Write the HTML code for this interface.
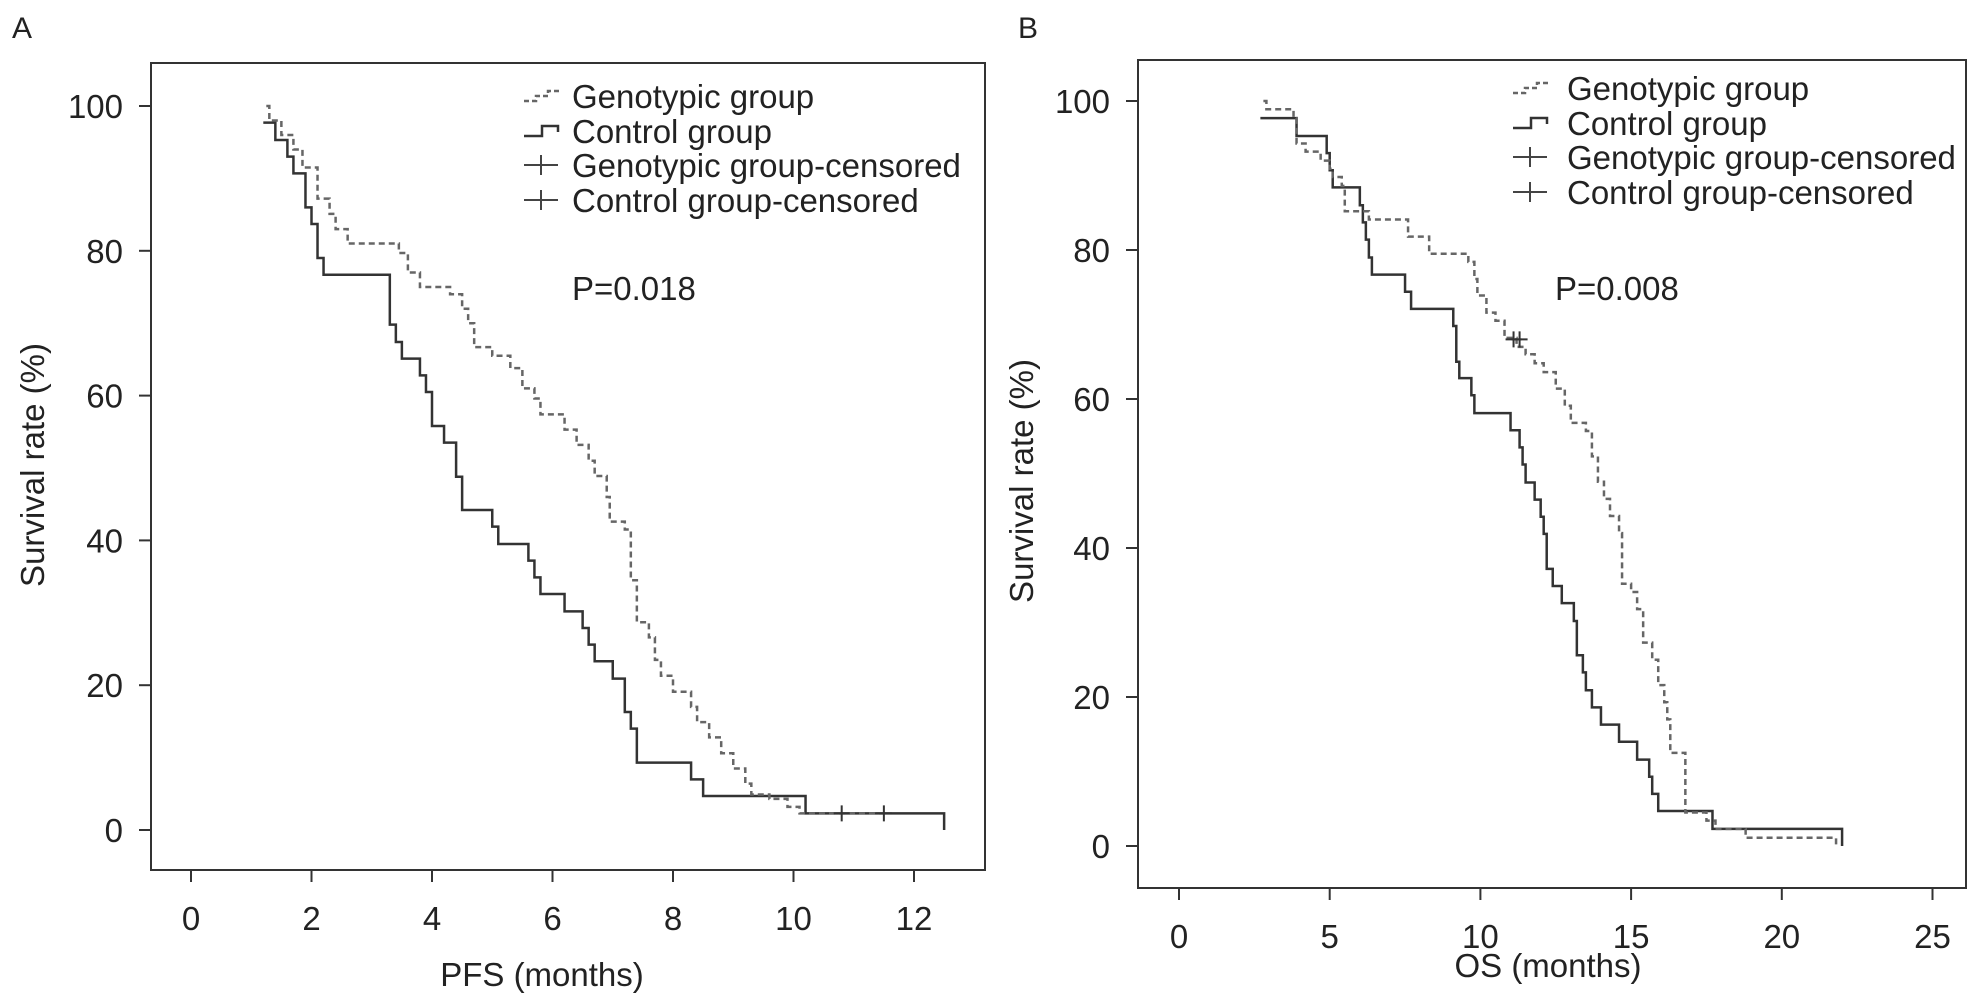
<!DOCTYPE html>
<html><head><meta charset="utf-8"><style>
body{margin:0;background:#fff}
svg{display:block;font-family:"Liberation Sans",Arial,sans-serif}
</style></head><body>
<svg id="fig" width="1985" height="1006" viewBox="0 0 1985 1006"></svg>
<script>
// Panel A data (PFS)
const pfsControlT=[1.2,1.4,1.6,1.7,1.9,2.0,2.1,2.2,3.3,3.4,3.5,3.8,3.9,4.0,4.2,4.4,4.5,5.0,5.1,5.6,5.7,5.8,6.2,6.5,6.6,6.7,7.0,7.2,7.3,7.4,8.3,8.5,10.2,12.5];
const pfsControlS=[97.7,95.3,93,90.7,86,83.7,79,76.7,69.8,67.4,65.1,62.8,60.5,55.8,53.5,48.8,44.2,41.9,39.5,37.2,34.9,32.6,30.2,27.9,25.6,23.3,20.9,16.3,14,9.3,7,4.7,2.3,0];
const pfsGenoT=[1.25,1.3,1.5,1.7,1.85,2.1,2.3,2.4,2.6,3.45,3.6,3.8,4.3,4.5,4.6,4.7,5.0,5.3,5.5,5.7,5.8,6.2,6.4,6.6,6.7,6.9,6.95,7.2,7.3,7.4,7.6,7.7,7.8,8.0,8.3,8.4,8.6,8.8,9.0,9.2,9.3,9.6,9.9,10.1,11.5];
const pfsGenoS=[100,98,96,94,91.5,87.2,85.1,83,81,79.7,77,75,74,72,70,66.7,65.5,63.8,61,59.6,57.4,55.3,53.2,51,48.9,46,42.6,41.5,34.5,28.7,26.6,23.5,21.3,19.1,17,14.9,12.8,10.6,8.5,6.4,4.9,4.3,3.2,2.3,2.3];
const pfsCensorT=[10.8,11.5];
const pfsCensorS=[2.3,2.3];
const pfsTicks=[0,2,4,6,8,10,12];
// Panel B data (OS)
const osControlT=[2.7,3.9,4.9,5.0,5.1,6.0,6.1,6.2,6.3,6.4,7.5,7.7,9.1,9.2,9.3,9.7,9.8,11,11.3,11.4,11.5,11.8,12,12.1,12.2,12.4,12.7,13.1,13.2,13.4,13.5,13.7,14.0,14.6,15.2,15.6,15.7,15.9,17.7,22];
const osControlS=[97.7,95.3,93,90.7,88.4,86,83.7,81.4,79,76.7,74.4,72.1,69.8,65,62.8,60.5,58.1,55.8,53.5,51.2,48.8,46.5,44.2,41.9,37.2,34.9,32.6,30.2,25.6,23.3,20.9,18.6,16.3,14,11.6,9.3,7,4.7,2.3,0];
const osGenoT=[2.8,2.9,3.8,3.9,4.2,4.7,5.0,5.1,5.4,5.5,6.3,7.6,8.3,9.6,9.8,9.9,10.2,10.5,10.8,11.2,11.5,11.8,12.1,12.5,12.8,13.0,13.5,13.7,13.9,14.1,14.3,14.6,14.7,15.0,15.2,15.4,15.7,15.9,16.1,16.2,16.3,16.8,17.5,17.8,18.8,21.8];
const osGenoS=[100,98.9,97.7,94.3,93.2,92,90.9,89.8,88.6,85.2,84.1,81.8,79.5,78.4,76.1,73.9,71.6,70.5,68.2,67,66,64.8,63.6,61.4,59.1,56.8,55.7,52.3,48.9,46.6,44.3,42,35.2,34.1,31.8,27.3,25,21.6,19.3,17,12.5,4.5,3.4,2.3,1.1,0];
const osCensorT=[11.1,11.3];
const osCensorS=[68,68];
const osTicks=[0,5,10,15,20,25];
const yTicks=[0,20,40,60,80,100];

const NS='http://www.w3.org/2000/svg';
const svg=document.getElementById('fig');
const FS=33;
function mk(tag,attrs,parent){const e=document.createElementNS(NS,tag);for(const k in attrs)e.setAttribute(k,attrs[k]);(parent||svg).appendChild(e);return e;}
function txt(s,attrs,parent){const e=mk('text',attrs,parent);e.textContent=s;return e;}

function panel(cfg){
  const g=mk('g',{});
  
  
  const X=v=>cfg.x0+v*cfg.xs, Y=v=>cfg.y0-v*cfg.ys;
  const box=mk('rect',{x:cfg.L,y:cfg.T,width:cfg.R-cfg.L,height:cfg.B-cfg.T,fill:'none',stroke:'#333','stroke-width':2},g);
  
  
  const pl=txt(cfg.label,{x:cfg.labelX,y:38,'font-size':30,fill:'#222'},g);
  
  
  yTicks.forEach(v=>{
    mk('line',{x1:cfg.L-12,x2:cfg.L,y1:Y(v),y2:Y(v),stroke:'#333','stroke-width':2},g);
    const t=txt(String(v),{x:cfg.L-28,y:Y(v)+12,'font-size':FS,'text-anchor':'end',fill:'#222'},g);
    
    
  });
  cfg.xticks.forEach(v=>{
    mk('line',{x1:X(v),x2:X(v),y1:cfg.B,y2:cfg.B+12,stroke:'#333','stroke-width':2},g);
    const t=txt(String(v),{x:X(v),y:cfg.B+60,'font-size':FS,'text-anchor':'middle',fill:'#222'},g);
    
    
  });
  const xt=txt(cfg.xtitle,{x:cfg.xtX,y:cfg.xtY,'font-size':FS,'text-anchor':'middle',fill:'#222'},g);
  
  
  const yt=txt('Survival rate (%)',{x:0,y:0,'font-size':FS,'text-anchor':'middle',fill:'#222',transform:`translate(${cfg.ytX},${cfg.ytY}) rotate(-90)`},g);
  
  
  function step(T,S){let d=`M${X(T[0])},${Y(S[0])}`;for(let i=1;i<T.length;i++){d+=` H${X(T[i])} V${Y(S[i])}`;}return d;}
  const c=mk('path',{d:step(cfg.cT,cfg.cS),fill:'none',stroke:'#333','stroke-width':2.5},g);
  
  
  const gg=mk('path',{d:step(cfg.gT,cfg.gS),fill:'none',stroke:'#666','stroke-width':2.5,'stroke-dasharray':'6,4'},g);
  
  
  cfg.ceT.forEach((t,i)=>{
    const p=mk('path',{d:`M${X(t)-8},${Y(cfg.ceS[i])} h16 M${X(t)},${Y(cfg.ceS[i])-8} v16`,stroke:'#333','stroke-width':2},g);
    
    
  });
  const names=['Genotypic group','Control group','Genotypic group-censored','Control group-censored'];
  names.forEach((n,i)=>{
    const y=cfg.legY[i], lx=cfg.legX;
    const le=mk('g',{},g);
    
    
    if(i===0) mk('path',{d:`M${lx},${y+5} h12 v-5 h12 v-5 h12`,fill:'none',stroke:'#666','stroke-width':2.5,'stroke-dasharray':'5,3'},le);
    else if(i===1) mk('path',{d:`M${lx},${y+5} h18 v-10 h16 v6`,fill:'none',stroke:'#333','stroke-width':2.5},le);
    else mk('path',{d:`M${lx},${y} h34 M${lx+17},${y-10} v20`,stroke:'#444','stroke-width':2},le);
    txt(n,{x:cfg.legTX,y:y+12,'font-size':FS,fill:'#222'},le);
  });
  const p=txt(cfg.p,{x:cfg.pX,y:cfg.pY,'font-size':FS,fill:'#222'},g);
  
  
}
panel({name:'panel-a-pfs',label:'A',labelX:12,L:151,R:985,T:63,B:870,x0:191,xs:60.25,y0:830,ys:7.24,xticks:pfsTicks,
  xtitle:'PFS (months)',xtX:542,xtY:986,ytX:44,ytY:465,cT:pfsControlT,cS:pfsControlS,gT:pfsGenoT,gS:pfsGenoS,ceT:pfsCensorT,ceS:pfsCensorS,
  legX:524,legTX:572,legY:[96,131,165,200],p:'P=0.018',pX:572,pY:300});
panel({name:'panel-b-os',label:'B',labelX:1018,L:1138,R:1966,T:60,B:888,x0:1179,xs:30.14,y0:846,ys:7.45,xticks:osTicks,
  xtitle:'OS (months)',xtX:1548,xtY:977,ytX:1033,ytY:481,cT:osControlT,cS:osControlS,gT:osGenoT,gS:osGenoS,ceT:osCensorT,ceS:osCensorS,
  legX:1513,legTX:1567,legY:[88,123,157,192],p:'P=0.008',pX:1555,pY:300});
</script>
</body></html>
